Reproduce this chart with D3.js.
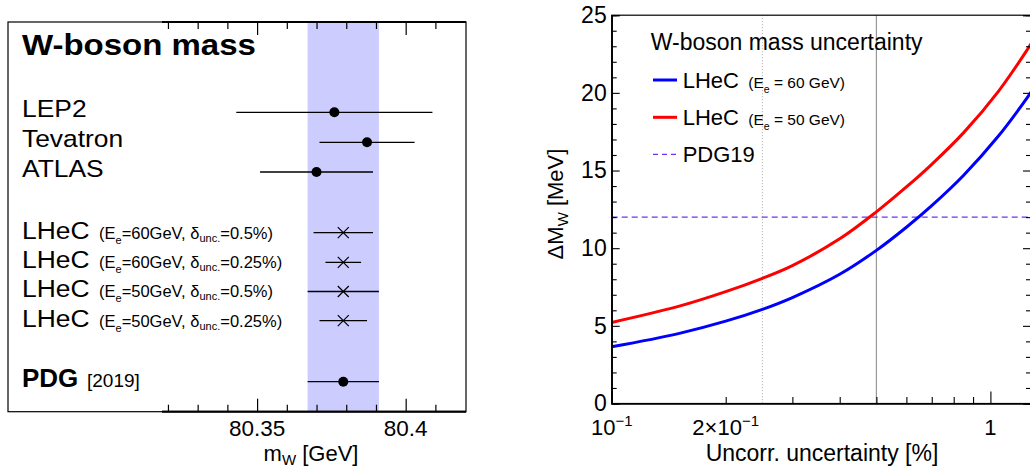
<!DOCTYPE html>
<html><head><meta charset="utf-8">
<script src="https://cdn.jsdelivr.net/npm/d3@7"></script>
<style>
html,body{margin:0;padding:0;background:#fff;}
svg{display:block;font-family:"Liberation Sans",Arial,Helvetica,sans-serif;}
</style></head>
<body>
<svg id="c" width="1030" height="470"></svg>
<script>
// ---------- data: left panel ----------
const measLabels = ["LEP2", "Tevatron", "ATLAS"];
const measValues = [80.376, 80.387, 80.370];
const measErrors = [0.033, 0.016, 0.019];
const lhecEe = ["60", "60", "50", "50"];
const lhecUnc = ["0.5", "0.25", "0.5", "0.25"];
const lhecValues = [80.379, 80.379, 80.379, 80.379];
const lhecErrors = [0.010, 0.006, 0.012, 0.008];
const pdgValue = [80.379];
const pdgError = [0.012];
const massTicksMajor = [80.35, 80.4];
const massTickLabels = ["80.35", "80.4"];
const massTicksMinor = [80.32, 80.33, 80.34, 80.36, 80.37, 80.38, 80.39, 80.41];

// ---------- data: right panel ----------
const uncX  = [0.10, 0.15, 0.20, 0.25, 0.30, 0.40, 0.50, 0.60, 0.70, 0.85, 1.05, 1.25, 1.28];
const dmw60 = [3.65, 4.50, 5.30, 6.06, 6.82, 8.32, 9.86, 11.35, 12.74, 14.70, 17.22, 19.68, 20.05];
const dmw50 = [5.22, 6.25, 7.20, 8.06, 8.88, 10.60, 12.34, 13.94, 15.40, 17.44, 20.10, 22.76, 23.16];
const pdg19 = [12];
const refLinesSolid = [0.5];
const refLinesDotted = [0.25];
const yMajor = [0, 5, 10, 15, 20, 25];
const yMinor = d3.range(0, 26, 1).filter(v => v % 5 !== 0);
const xMajorLog = [0.1, 1];
const xMinorLog = [0.2, 0.3, 0.4, 0.5, 0.6, 0.7, 0.8, 0.9];

const svg = d3.select("#c");
const FONT = '"Liberation Sans",Arial,Helvetica,sans-serif';

// ================= LEFT PANEL =================
const L = {x0: 8, x1: 466, y0: 22, y1: 411.7, ax0: 162};
const xm = d3.scaleLinear().domain([80.318, 80.4203]).range([L.ax0, L.x1]);
const left = svg.append("g");

// PDG band
left.append("rect")
  .attr("x", xm(pdgValue[0] - pdgError[0])).attr("y", L.y0)
  .attr("width", xm(pdgValue[0] + pdgError[0]) - xm(pdgValue[0] - pdgError[0]))
  .attr("height", L.y1 - L.y0).attr("fill", "#ccccff");

// frame
left.append("rect").attr("x", L.x0).attr("y", L.y0).attr("width", L.x1 - L.x0).attr("height", L.y1 - L.y0)
  .attr("fill", "none").attr("stroke", "#000").attr("stroke-width", 1.2);

// axes (bottom ticks pointing up, top ticks pointing down)
const axB = d3.axisBottom(xm).tickValues(massTicksMajor).tickSize(-13).tickFormat("");
const axBm = d3.axisBottom(xm).tickValues(massTicksMinor).tickSize(-7).tickFormat("");
const axT = d3.axisTop(xm).tickValues(massTicksMajor).tickSize(-13).tickFormat("");
const axTm = d3.axisTop(xm).tickValues(massTicksMinor).tickSize(-7).tickFormat("");
[[axB, L.y1], [axBm, L.y1], [axT, L.y0], [axTm, L.y0]].forEach(([a, y]) => {
  const g = left.append("g").attr("transform", `translate(0,${y})`).call(a);
  g.select(".domain").attr("stroke-width", 1.8).attr("d", `M${L.ax0},0H${L.x1}`);
  g.selectAll(".tick line").attr("stroke-width", 1.2);
});
massTicksMajor.forEach((v, i) => {
  left.append("text").attr("x", xm(v)).attr("y", 436).attr("text-anchor", "middle")
    .attr("font-size", 22.5).text(massTickLabels[i]);
});
const mt = left.append("text").attr("x", 311).attr("y", 461).attr("text-anchor", "middle").attr("font-size", 22);
mt.append("tspan").text("m");
mt.append("tspan").attr("font-size", 15).attr("dy", 4).text("W");
mt.append("tspan").attr("dy", -4).text(" [GeV]");

function stretched(g, x, y, txt, size, weight, sx) {
  g.append("text").attr("transform", `translate(${x},${y}) scale(${sx},1)`)
    .attr("font-size", size).attr("font-weight", weight).text(txt);
}
stretched(left, 22, 55, "W-boson mass", 30, "bold", 1.1);

// error bars
function errBar(v, e, y) {
  left.append("line").attr("x1", xm(v - e)).attr("x2", xm(v + e)).attr("y1", y).attr("y2", y)
    .attr("stroke", "#000").attr("stroke-width", 1.3);
}
const measY = [112.3, 142.3, 172];
measLabels.forEach((lab, i) => {
  errBar(measValues[i], measErrors[i], measY[i]);
  left.append("circle").attr("cx", xm(measValues[i])).attr("cy", measY[i]).attr("r", 5).attr("fill", "#000");
  stretched(left, 22, measY[i] + 4.6, lab, 24, "normal", 1.1);
});
const lhecY = [232.7, 262.3, 291.5, 320.7];
lhecValues.forEach((v, i) => {
  const y = lhecY[i];
  errBar(v, lhecErrors[i], y);
  const cx = xm(v), s = 5.5;
  left.append("path").attr("d", `M${cx - s},${y - s}L${cx + s},${y + s}M${cx - s},${y + s}L${cx + s},${y - s}`)
    .attr("stroke", "#000").attr("stroke-width", 1.2);
  stretched(left, 22, y + 5.8, "LHeC", 24, "normal", 1.1);
  const t = left.append("text").attr("x", 99).attr("y", y + 5.8).attr("font-size", 16.5);
  t.append("tspan").text("(E");
  t.append("tspan").attr("font-size", 11).attr("dy", 5).text("e");
  t.append("tspan").attr("dy", -5).text("=" + lhecEe[i] + "GeV, δ");
  t.append("tspan").attr("font-size", 11).attr("dy", 3).text("unc.");
  t.append("tspan").attr("dy", -3).text("=" + lhecUnc[i] + "%)");
});
const pdgY = 381.7;
errBar(pdgValue[0], pdgError[0], pdgY);
left.append("circle").attr("cx", xm(pdgValue[0])).attr("cy", pdgY).attr("r", 5).attr("fill", "#000");
left.append("text").attr("x", 22).attr("y", 387).attr("font-size", 26).attr("font-weight", "bold").text("PDG");
left.append("text").attr("x", 87).attr("y", 387).attr("font-size", 19).text("[2019]");

// ================= RIGHT PANEL =================
const R = {x0: 611.7, x1: 1031, y0: 15.2, y1: 403.5};
const xu = d3.scaleLog().domain([0.1, 1.28]).range([R.x0, R.x1]);
const yu = d3.scaleLinear().domain([0, 25]).range([R.y1, R.y0]);
const right = svg.append("g");

// reference vertical lines
refLinesDotted.forEach(v => right.append("line").attr("x1", xu(v)).attr("x2", xu(v)).attr("y1", R.y0).attr("y2", R.y1)
  .attr("stroke", "#aaa").attr("stroke-width", 1).attr("stroke-dasharray", "1,2"));
refLinesSolid.forEach(v => right.append("line").attr("x1", xu(v)).attr("x2", xu(v)).attr("y1", R.y0).attr("y2", R.y1)
  .attr("stroke", "#999").attr("stroke-width", 1.2));

// PDG19 line
right.append("line").attr("x1", R.x0).attr("x2", R.x1).attr("y1", yu(pdg19[0])).attr("y2", yu(pdg19[0]))
  .attr("stroke", "#7030f0").attr("stroke-width", 1.3).attr("stroke-dasharray", "6,4");

// curves
const line = d3.line().x((d, i) => xu(uncX[i])).y(d => yu(d)).curve(d3.curveCatmullRom.alpha(0.5));
right.append("defs").append("clipPath").attr("id", "clipR").append("rect")
  .attr("x", R.x0).attr("y", R.y0).attr("width", R.x1 - R.x0).attr("height", R.y1 - R.y0);
right.append("path").attr("d", line(dmw60)).attr("fill", "none").attr("stroke", "#0000ff").attr("stroke-width", 3).attr("clip-path", "url(#clipR)");
right.append("path").attr("d", line(dmw50)).attr("fill", "none").attr("stroke", "#ff0000").attr("stroke-width", 3).attr("clip-path", "url(#clipR)");

// frame
right.append("rect").attr("x", R.x0).attr("y", R.y0).attr("width", R.x1 - R.x0).attr("height", R.y1 - R.y0)
  .attr("fill", "none").attr("stroke", "#000").attr("stroke-width", 1.2);

// y axes
const yL = right.append("g").attr("transform", `translate(${R.x0},0)`)
  .call(d3.axisLeft(yu).tickValues(yMajor).tickSize(-8).tickPadding(5).tickFormat(d3.format("d")));
yL.selectAll("text").attr("font-size", 23).attr("font-family", FONT).attr("fill", "#000");
right.append("g").attr("transform", `translate(${R.x0},0)`)
  .call(d3.axisLeft(yu).tickValues(yMinor).tickSize(-5).tickFormat(""));
right.append("g").attr("transform", `translate(${R.x1},0)`)
  .call(d3.axisRight(yu).tickValues(yMajor).tickSize(-8).tickFormat(""));
right.append("g").attr("transform", `translate(${R.x1},0)`)
  .call(d3.axisRight(yu).tickValues(yMinor).tickSize(-5).tickFormat(""));

// x axis
right.append("g").attr("transform", `translate(0,${R.y1})`)
  .call(d3.axisBottom(xu).tickValues(xMajorLog).tickSize(-12).tickFormat(""));
right.append("g").attr("transform", `translate(0,${R.y1})`)
  .call(d3.axisBottom(xu).tickValues(xMinorLog).tickSize(-6.5).tickFormat(""));
right.selectAll(".domain").attr("stroke-width", 1.2);
right.selectAll(".tick line").attr("stroke-width", 1.1);

// x tick labels
function pow10Label(x, y, pre) {
  const t = right.append("text").attr("x", x).attr("y", y).attr("text-anchor", "middle").attr("font-size", 22);
  t.append("tspan").text(pre + "10");
  t.append("tspan").attr("font-size", 15).attr("dy", -9).text("\u22121");
}
pow10Label(xu(0.1), 435, "");
pow10Label(xu(0.2), 435, "2\u00d7");
right.append("text").attr("x", xu(1)).attr("y", 435).attr("text-anchor", "middle").attr("font-size", 22).text("1");
right.append("text").attr("x", 822).attr("y", 460.7).attr("text-anchor", "middle").attr("font-size", 23).text("Uncorr. uncertainty [%]");

// y title
const yt = right.append("text").attr("transform", "translate(563,204) rotate(-90)").attr("text-anchor", "middle").attr("font-size", 22);
yt.append("tspan").text("\u0394M");
yt.append("tspan").attr("font-size", 15).attr("dy", 5).text("W");
yt.append("tspan").attr("dy", -5).text(" [MeV]");

// legend
right.append("text").attr("x", 650.7).attr("y", 50).attr("font-size", 23).text("W-boson mass uncertainty");
const legItems = [
  {c: "#0000ff", y: 80, e: "60"},
  {c: "#ff0000", y: 117.3, e: "50"}
];
legItems.forEach(it => {
  right.append("line").attr("x1", 653).attr("x2", 677).attr("y1", it.y).attr("y2", it.y).attr("stroke", it.c).attr("stroke-width", 3);
  right.append("text").attr("x", 682.7).attr("y", it.y + 8).attr("font-size", 22).text("LHeC");
  const t = right.append("text").attr("x", 748.3).attr("y", it.y + 8).attr("font-size", 15.5);
  t.append("tspan").text("(E");
  t.append("tspan").attr("font-size", 10.5).attr("dy", 5).text("e");
  t.append("tspan").attr("dy", -5).text(" = " + it.e + " GeV)");
});
right.append("line").attr("x1", 653).attr("x2", 676).attr("y1", 154.3).attr("y2", 154.3)
  .attr("stroke", "#7030f0").attr("stroke-width", 1.3).attr("stroke-dasharray", "5,4");
right.append("text").attr("x", 682.7).attr("y", 161.7).attr("font-size", 22).text("PDG19");
</script>
</body></html>
